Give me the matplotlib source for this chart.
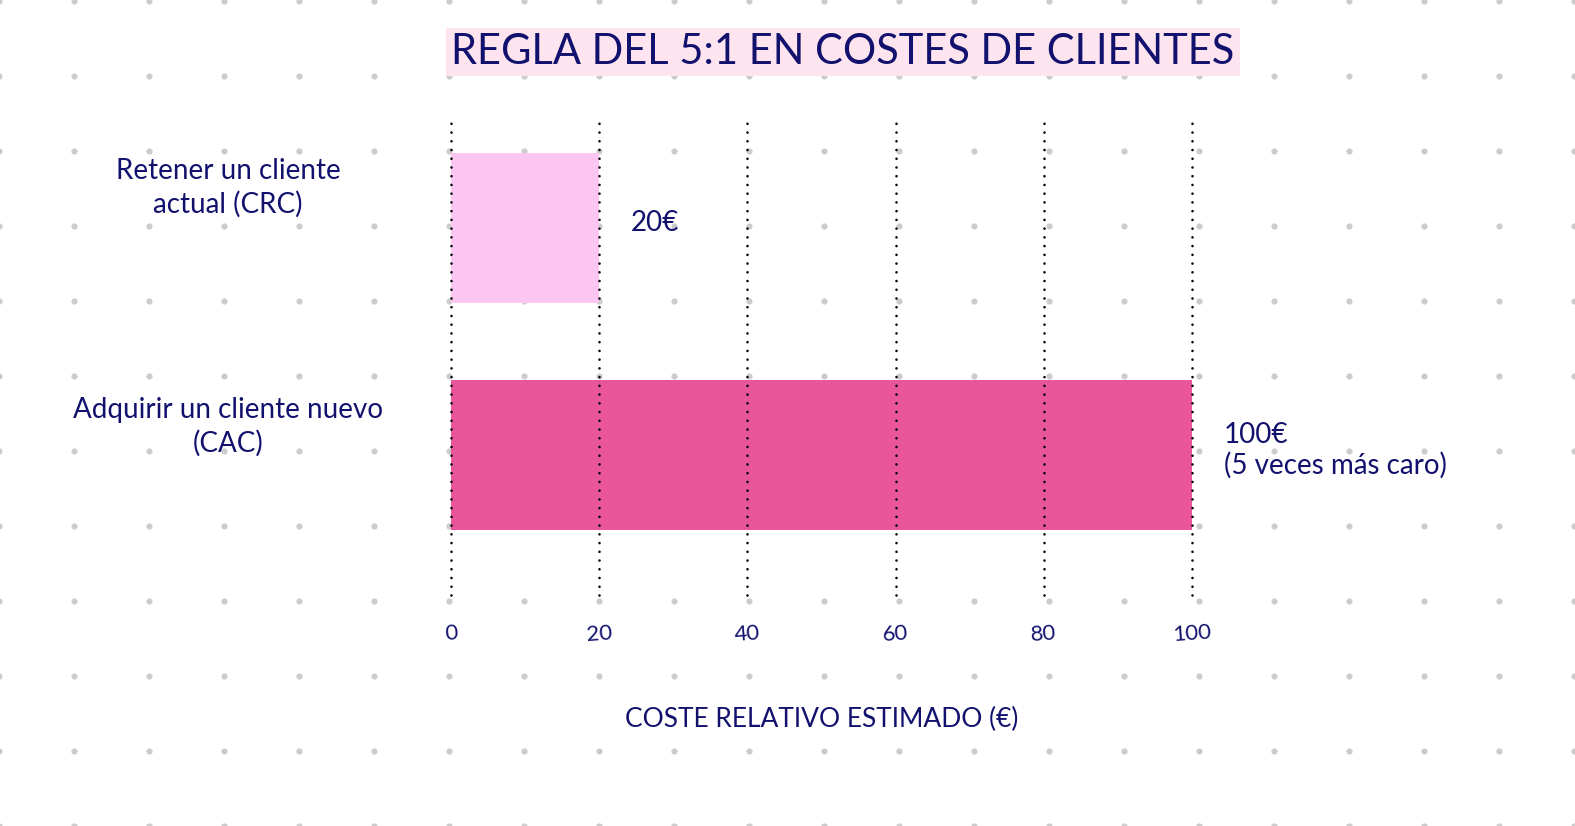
import numpy as np
import matplotlib
matplotlib.use("Agg")
import matplotlib.pyplot as plt
import matplotlib.transforms as mtransforms

# data
categorias = ["Retener un cliente\nactual (CRC)", "Adquirir un cliente nuevo\n(CAC)"]
costes = [20, 100]
etiquetas = ["20€", "100€\n(5 veces más caro)"]
xticks = [0, 20, 40, 60, 80, 100]
titulo = "REGLA DEL 5:1 EN COSTES DE CLIENTES"
xlabel = "COSTE RELATIVO ESTIMADO (€)"

# style
tinta = "#12126e"
colores = ["#fcc5f2", "#e8559b"]
plt.rcParams["font.family"] = ["Lato", "DejaVu Sans"]

W, H = 1575, 826
fig = plt.figure(figsize=(W / 100, H / 100), dpi=100)

# dotted paper background
bg = fig.add_axes([0, 0, 1, 1], zorder=-5)
bg.set_xlim(0, W)
bg.set_ylim(H, 0)
bg.axis("off")
gx, gy = np.meshgrid(np.arange(-1, W + 10, 75), np.arange(1, H + 10, 75))
bg.scatter(gx.ravel(), gy.ravel(), s=20, color="#cccccc", linewidths=0)

ax = fig.add_axes([451 / W, 1 - 595 / H, (1192 - 451) / W, (595 - 116) / H])
ax.set_facecolor("none")
ypos = np.arange(len(categorias))
ax.barh(ypos, costes, height=0.66, color=colores, zorder=2)
ax.set_xlim(0, 100)
ax.set_ylim(1.617, -0.493)

# dotted vertical guides drawn over bars
guias = ax.vlines(xticks, *ax.get_ylim(), colors="black", linewidth=1.9,
                  linestyles=[(0, (0.01, 3.3))], zorder=3, clip_on=False)
guias.set_capstyle("round")

for s in ax.spines.values():
    s.set_visible(False)
ax.set_xticks(xticks)
ax.set_xticklabels([str(t) for t in xticks], color=tinta, fontsize=16, rotation=4)
ax.tick_params(axis="x", length=0, pad=20)
ax.set_yticks([])

# category labels on the left
off = [-40, -28]
for i, cat in enumerate(categorias):
    tr = mtransforms.offset_copy(ax.get_yaxis_transform(), fig=fig, x=0, y=-off[i], units="dots")
    ax.text(-223 / (1192 - 451), i, cat, transform=tr, ha="center", va="center",
            color=tinta, fontsize=20, linespacing=1.35)

# value labels
for i, (v, lab) in enumerate(zip(costes, etiquetas)):
    ax.text(v + 4.3, i - 0.02, lab, ha="left", va="center", color=tinta,
            fontsize=20, linespacing=1.2)

ax.set_xlabel(xlabel, color=tinta, fontsize=19, labelpad=44)

fig.text(843 / W, 1 - 52 / H, titulo, ha="center", va="center", color=tinta,
         fontsize=30,
         bbox=dict(facecolor="#fde4ef", edgecolor="none", pad=4))

fig.savefig("out.png", dpi=100, facecolor="white")
